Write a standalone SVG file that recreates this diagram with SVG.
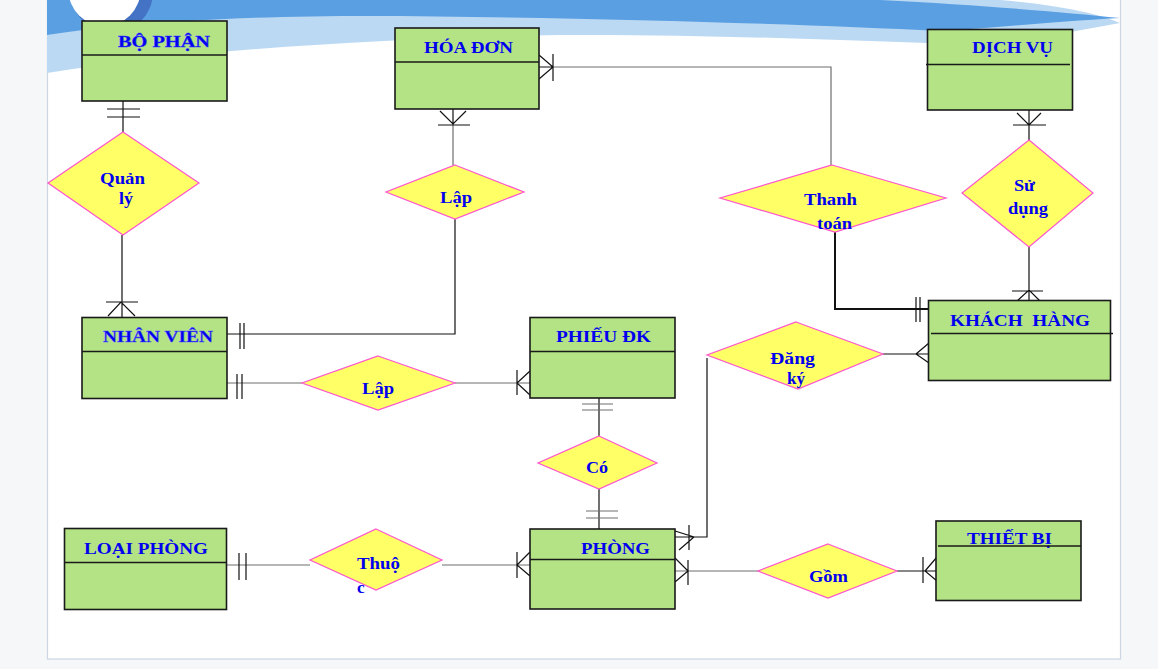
<svg xmlns="http://www.w3.org/2000/svg" width="1158" height="669" viewBox="0 0 1158 669">
<style>
.ent{fill:#b3e385;stroke:#1a1a1a;stroke-width:1.6}
.div{stroke:#1a1a1a;stroke-width:1.6;fill:none}
.rel{fill:#ffff66;stroke:#ff55cc;stroke-width:1.2}
.t{font-family:"Liberation Serif","Times New Roman",serif;font-weight:bold;font-size:17px;fill:#0000ee}
.ln{fill:none;stroke:#111;stroke-width:1.2}
.lg{fill:none;stroke:#6e6e6e;stroke-width:1.2}
.lk{fill:none;stroke:#111;stroke-width:2}
</style>
<rect x="0" y="0" width="1158" height="669" fill="#f6f7f8"/>
<rect x="47.5" y="-1" width="1073" height="660" fill="#ffffff" stroke="#cdd6e3" stroke-width="1.2"/>
<g id="decoration">
<path d="M47,0 H1000 C1060,5 1100,14 1120,23 C1080,30 1040,38 990,45 C880,42 720,34 560,35 C400,38 200,48 47,73 Z" fill="#bcd9f3"/>
<path d="M47,0 H880 C980,5 1060,12 1120,18 C1050,22 990,28 940,31 C800,24 600,18 400,16 C250,15 130,22 47,35 Z" fill="#5b9fe3"/>
<circle cx="112" cy="-8" r="41" fill="#4472c4"/>
<circle cx="104.5" cy="-10" r="36" fill="#ffffff"/>
</g>
<g id="connectors">
<path class="ln" d="M123,101 V132 M107,109 H140 M107,117 H140"/>
<path class="ln" d="M122,235 V317 M106,302 H138 M108,316 L121,302 L135,316"/>
<path class="lg" d="M453,125 V165"/>
<path class="ln" d="M453,109 V125 M438,125 H470 M440,111 L453,124 L466,111"/>
<path class="ln" d="M455,219 V334 H227 M240,323 V349 M244,323 V349"/>
<path class="lg" d="M227,383 H302"/>
<path class="ln" d="M237,374 V399 M242,374 V399"/>
<path class="lg" d="M455,383 H530"/>
<path class="ln" d="M517,370 V395 M530,371 L517,383 L530,395"/>
<path class="ln" d="M599,398 V436"/>
<path class="lg" d="M582,404 H613 M582,410 H613"/>
<path class="ln" d="M599,489 V529"/>
<path class="lg" d="M586,511 H618 M586,518 H618"/>
<path class="lg" d="M227,565 H310"/>
<path class="ln" d="M239,553 V580 M246,553 V580"/>
<path class="lg" d="M442,565 H530"/>
<path class="ln" d="M517,552 V578 M530,552 L517,565 L530,576"/>
<path class="ln" d="M707,358 V537 H675 M689,525 V550 M675,531 L694,537 L679,550"/>
<path class="lg" d="M675,571 H758"/>
<path class="ln" d="M688,560 V585 M675,558 L688,571 L675,582"/>
<path class="ln" d="M897,571 H936 M923,557 V583 M937,557 L925,571 L937,581"/>
<path class="ln" d="M883,354 H929 M929,343 L916,354 L929,363"/>
<path class="lg" d="M553,67 H831 V165"/>
<path class="ln" d="M539,67 H553 M553,54 V81 M539,55 L553,67 L539,79"/>
<path class="lk" d="M835,232 V309 H929"/>
<path class="ln" d="M916,297 V322 M920,297 V322"/>
<path class="ln" d="M1029,110 V140 M1013,125 H1046 M1017,113 L1029,125 L1041,113"/>
<path class="ln" d="M1029,247 V301 M1012,291 H1043 M1017,301 L1029,290 L1040,301"/>
</g>
<g id="bo-phan">
<rect class="ent" x="82" y="21" width="145" height="80"/>
<path class="div" d="M82,55 H227"/>
<text class="t" x="118" y="47" textLength="92" lengthAdjust="spacingAndGlyphs" stroke="#3333ff" stroke-width="0.4">BỘ PHẬN</text>
</g>
<g id="hoa-don">
<rect class="ent" x="395" y="28" width="144" height="81"/>
<path class="div" d="M395,62 H539"/>
<text class="t" x="424" y="53" textLength="89" lengthAdjust="spacingAndGlyphs">HÓA ĐƠN</text>
</g>
<g id="dich-vu">
<rect class="ent" x="927.5" y="29.5" width="145" height="80.5"/>
<path class="div" d="M926,64.5 H1070"/>
<text class="t" x="972" y="53" textLength="81" lengthAdjust="spacingAndGlyphs">DỊCH VỤ</text>
</g>
<g id="nhan-vien">
<rect class="ent" x="82" y="317.5" width="145" height="81"/>
<path class="div" d="M82,351.5 H227"/>
<text class="t" x="103" y="342" textLength="110" lengthAdjust="spacingAndGlyphs" stroke="#5555ff" stroke-width="0.4">NHÂN VIÊN</text>
</g>
<g id="phieu-dk">
<rect class="ent" x="530" y="317.5" width="145" height="80.5"/>
<path class="div" d="M530,351.5 H675"/>
<text class="t" x="556" y="342" textLength="95" lengthAdjust="spacingAndGlyphs">PHIẾU ĐK</text>
</g>
<g id="khach-hang">
<rect class="ent" x="928.5" y="300.5" width="182" height="80"/>
<path class="div" d="M931,333.5 H1113"/>
<text class="t" x="950" y="326" textLength="140" lengthAdjust="spacingAndGlyphs" xml:space="preserve">KHÁCH  HÀNG</text>
</g>
<g id="loai-phong">
<rect class="ent" x="64.5" y="528.5" width="162" height="81"/>
<path class="div" d="M64.5,562.5 H226.5"/>
<text class="t" x="84" y="554" textLength="124" lengthAdjust="spacingAndGlyphs">LOẠI PHÒNG</text>
</g>
<g id="phong">
<rect class="ent" x="530" y="529" width="145" height="80"/>
<path class="div" d="M530,559.5 H675"/>
<text class="t" x="581" y="554" textLength="69" lengthAdjust="spacingAndGlyphs">PHÒNG</text>
</g>
<g id="thiet-bi">
<rect class="ent" x="936" y="521" width="145" height="79.5"/>
<text class="t" x="967" y="544" textLength="85" lengthAdjust="spacingAndGlyphs">THIẾT BỊ</text>
<path class="div" d="M938,546 H1081"/>
</g>
<g id="quan-ly">
<polygon class="rel" points="123,132 199,183 123,235 48,183"/>
<text class="t" x="100" y="184" textLength="45" lengthAdjust="spacingAndGlyphs">Quản</text>
<text class="t" x="119" y="204" textLength="14" lengthAdjust="spacingAndGlyphs">lý</text>
</g>
<g id="lap-hoa-don">
<polygon class="rel" points="455,165 524,192 455,219 386,192"/>
<text class="t" x="440" y="203" textLength="32" lengthAdjust="spacingAndGlyphs">Lập</text>
</g>
<g id="thanh-toan">
<polygon class="rel" points="832,165 946,198 835,232 720,198"/>
<text class="t" x="804" y="205" textLength="53" lengthAdjust="spacingAndGlyphs">Thanh</text>
<text class="t" x="817" y="229" textLength="35" lengthAdjust="spacingAndGlyphs">toán</text>
</g>
<g id="su-dung">
<polygon class="rel" points="1029,140 1093,193 1029,247 962,193"/>
<text class="t" x="1014" y="191" textLength="21" lengthAdjust="spacingAndGlyphs">Sử</text>
<text class="t" x="1008" y="214" textLength="40" lengthAdjust="spacingAndGlyphs">dụng</text>
</g>
<g id="lap-phieu">
<polygon class="rel" points="378,356 455,383 378,410 302,383"/>
<text class="t" x="362" y="394" textLength="32" lengthAdjust="spacingAndGlyphs">Lập</text>
</g>
<g id="co">
<polygon class="rel" points="599,436 657,463 599,489 538,463"/>
<text class="t" x="586" y="473" textLength="22" lengthAdjust="spacingAndGlyphs">Có</text>
</g>
<g id="dang-ky">
<polygon class="rel" points="796,322 883,354 798,389 707,355"/>
<text class="t" x="770" y="364" textLength="45" lengthAdjust="spacingAndGlyphs">Đăng</text>
<text class="t" x="787" y="384" textLength="18" lengthAdjust="spacingAndGlyphs">ký</text>
</g>
<g id="thuoc">
<polygon class="rel" points="376,529 442,560 376,590 310,560"/>
<text class="t" x="357" y="569" textLength="43" lengthAdjust="spacingAndGlyphs">Thuộ</text>
<text class="t" x="357" y="593">c</text>
</g>
<g id="gom">
<polygon class="rel" points="828,544 897,571 828,598 758,571"/>
<text class="t" x="809" y="582" textLength="39" lengthAdjust="spacingAndGlyphs">Gồm</text>
</g>
</svg>
